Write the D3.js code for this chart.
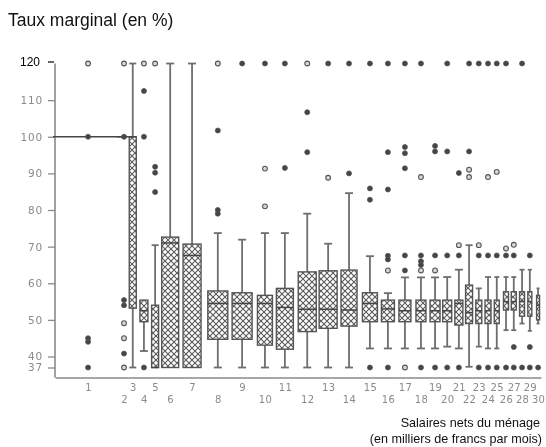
<!DOCTYPE html>
<html>
<head>
<meta charset="utf-8">
<script src="https://cdn.jsdelivr.net/npm/d3@7"></script>
<style>
  body { margin: 0; background: #fff; }
  svg { display: block; }
</style>
</head>
<body>
<svg id="chart" width="546" height="447"></svg>
<script>
// Tranches de salaire (milliers de francs par mois)
const tranches = [1,2,3,4,5,6,7,8,9,10,11,12,13,14,15,16,17,18,19,20,21,22,23,24,25,26,27,28,29,30];
// Abscisse de chaque tranche sur l'axe (unités 0–100)
const abscisses = [6.8,14.2,16.0,18.3,20.6,23.7,28.2,33.5,38.5,43.2,47.3,51.9,56.2,60.5,64.8,68.5,72.0,75.3,78.2,80.7,83.1,85.2,87.2,89.1,90.9,92.8,94.4,96.1,97.7,99.4];
// Effectifs relatifs (largeur des boîtes)
const effectifs = [350,70,35,40,35,85,90,100,100,75,85,90,90,80,75,65,60,50,50,45,40,35,30,30,25,25,25,25,20,15];
// Statistiques des boîtes (taux marginal en %)
const q1 =        [100,100,53.2,49.5,37,37,37,44.7,44.7,43.1,42,46.8,47.7,48.3,49.5,49.5,49.5,49.5,49.5,49.5,48.6,49,49,49,49,52.7,52.7,51,51,50];
const mediane =   [100,100,100,52.5,37,71,67.6,54.5,54.5,54.5,53.4,52.9,52.9,52.7,54.5,53,52.5,52.5,52.5,52.5,54.5,52,52.5,52.5,52.5,55,55,55,55,54];
const q3 =        [100,100,100,55.4,54,72.6,70.7,57.9,57.4,56.7,58.6,63.1,63.4,63.6,57.4,55.4,55.4,55.4,55.4,55.4,55.4,59.5,55.4,55.4,55.4,57.7,57.7,57.7,57.7,56.7];
const basMoustache =  [100,100,37,41.5,37,37,37,37,37,37,37,37,37,37,42.2,42.2,42.2,42.2,42.2,42.7,42.2,37.2,42.7,42.2,42.2,47.2,47.2,49,47,49];
const hautMoustache = [100,100,120,55.4,70.4,120,120,73.7,71.9,73.7,73.7,79,70.8,84.6,67.4,57.3,61.6,61.6,61.6,61.7,63.7,70.4,58.6,61.7,61.7,61.7,61.7,63.7,63.7,58.6];
// Valeurs atypiques isolées
const atypiquesIsoles = [
  [120],[120,49.1,45,37],[],[120],[120],[],[],[120],[],[91.3,81],
  [],[120],[88.8],[],[],[63.5],[37],[89,63.5],[63.5],[],
  [70.4],[91,89],[70.4],[89],[90.4],[69.5],[70.5],[],[],[]
];
// Valeurs atypiques répétées (plusieurs ménages)
const atypiquesRepetes = [
  [100,45,44,37],[100,55.4,54,40.8],[],[112.5,100,37],[91.8,90.2,84.9],[],[],[101.7,80,79],[120],[120],
  [120,91.5],[106.7,95.8],[120],[120,90],[120,85.9,82.8,37],[120,95.8,85.6,67.5,66.5,37],[120,97.2,95.5,91.4,67.6,63.5],[120,67.6,66,65,37],[97.5,96,67.6,37],[120,96,67.6,37],
  [90.1,67.6,37],[120,96],[120,67.6,37],[120,67.6,37],[120,67.6,37],[120,67.6,37],[67.6,42.6,37],[120,37],[67.6,42.6,37],[37]
];
// Graduations de l'axe vertical
const graduationsY = [37,40,50,60,70,80,90,100,110];
const graduationHaute = [120];

const svg = d3.select("#chart");
const W = 546, H = 447;

const x = d3.scaleLinear().domain([0, 100]).range([55, 541]);
const y = d3.scaleLinear().domain([37, 120]).range([367.5, 63.5]);
const largeur = d3.scaleLinear().domain([0, 100]).range([0, 20]);
const baseline = y(37) + 10;

const defs = svg.append("defs");
const trame = defs.append("pattern")
  .attr("id", "trame").attr("patternUnits", "userSpaceOnUse")
  .attr("width", 6).attr("height", 6);
trame.append("rect").attr("width", 6).attr("height", 6).attr("fill", "#fff");
trame.append("path").attr("d", "M0,0L6,6M6,0L0,6")
  .attr("stroke", "#5a5a5a").attr("stroke-width", 1.1);
defs.append("filter").attr("id", "flou")
  .attr("x", "-5%").attr("y", "-5%").attr("width", "110%").attr("height", "110%")
  .append("feGaussianBlur").attr("stdDeviation", 0.6);

svg.append("rect").attr("width", W).attr("height", H).attr("fill", "#fff");

const plot = svg.append("g").attr("filter", "url(#flou)");

// Axe vertical
const axeY = plot.append("g")
  .attr("transform", `translate(${x(0)},0)`)
  .call(d3.axisLeft(y).tickValues(graduationsY).tickSize(7).tickPadding(5).tickSizeOuter(0));
axeY.select(".domain").remove();
axeY.selectAll(".tick line").attr("stroke", "#8a8a8a").attr("stroke-width", 1.3);
axeY.selectAll(".tick text")
  .attr("fill", "#8a8a8a").attr("font-family", "DejaVu Sans").attr("font-size", 10.5)
  .attr("letter-spacing", 0.8);

plot.append("line")
  .attr("x1", x(0)).attr("x2", x(0))
  .attr("y1", y(120)).attr("y2", baseline)
  .attr("stroke", "#8a8a8a").attr("stroke-width", 1.6);

// Axe horizontal
const axeX = plot.append("g")
  .attr("transform", `translate(0,${baseline})`)
  .call(d3.axisBottom(x).tickValues(abscisses).tickSize(0).tickSizeOuter(0)
    .tickFormat((d, i) => tranches[i]));
axeX.select(".domain").attr("stroke", "#8a8a8a").attr("stroke-width", 1.6);
axeX.selectAll(".tick text")
  .attr("y", (d, i) => (tranches[i] % 2 === 1 ? 6 : 18))
  .attr("fill", "#8a8a8a").attr("font-family", "DejaVu Sans").attr("font-size", 10)
  .attr("letter-spacing", 0.3);

// Boîtes à moustaches
const donnees = tranches.map((t, i) => ({
  t, pos: abscisses[i], w: largeur(effectifs[i]),
  q1: q1[i], med: mediane[i], q3: q3[i],
  bas: basMoustache[i], haut: hautMoustache[i],
  isoles: atypiquesIsoles[i], repetes: atypiquesRepetes[i]
}));

const boites = plot.selectAll("g.boite").data(donnees).join("g").attr("class", "boite");

boites.filter(d => d.bas < d.q1 || d.haut > d.q3).append("line")
  .attr("x1", d => x(d.pos)).attr("x2", d => x(d.pos))
  .attr("y1", d => y(d.bas)).attr("y2", d => y(d.haut))
  .attr("stroke", "#6e6e6e").attr("stroke-width", 1.8);

boites.filter(d => d.bas < d.q1).append("line")
  .attr("x1", d => x(d.pos) - Math.min(8, d.w) / 2)
  .attr("x2", d => x(d.pos) + Math.min(8, d.w) / 2)
  .attr("y1", d => y(d.bas)).attr("y2", d => y(d.bas))
  .attr("stroke", "#6e6e6e").attr("stroke-width", 1.8);

boites.filter(d => d.haut > d.q3).append("line")
  .attr("x1", d => x(d.pos) - Math.min(8, d.w) / 2)
  .attr("x2", d => x(d.pos) + Math.min(8, d.w) / 2)
  .attr("y1", d => y(d.haut)).attr("y2", d => y(d.haut))
  .attr("stroke", "#6e6e6e").attr("stroke-width", 1.8);

boites.append("rect")
  .attr("x", d => x(d.pos) - d.w / 2)
  .attr("width", d => d.w)
  .attr("y", d => y(d.q3))
  .attr("height", d => y(d.q1) - y(d.q3))
  .attr("fill", "url(#trame)")
  .attr("stroke", "#555").attr("stroke-width", 1.4);

boites.append("line")
  .attr("x1", d => x(d.pos) - d.w / 2).attr("x2", d => x(d.pos) + d.w / 2)
  .attr("y1", d => y(d.med)).attr("y2", d => y(d.med))
  .attr("stroke", "#444").attr("stroke-width", 1.5);

// Valeurs atypiques
boites.selectAll("circle.isole")
  .data(d => d.isoles.map(v => ({ pos: d.pos, v })))
  .join("circle").attr("class", "isole")
  .attr("cx", d => x(d.pos)).attr("cy", d => y(d.v)).attr("r", 2.4)
  .attr("fill", "#d8d8d8").attr("stroke", "#555").attr("stroke-width", 1.1);

boites.selectAll("circle.repete")
  .data(d => d.repetes.map(v => ({ pos: d.pos, v })))
  .join("circle").attr("class", "repete")
  .attr("cx", d => x(d.pos)).attr("cy", d => y(d.v)).attr("r", 2.5)
  .attr("fill", "#444").attr("stroke", "#555").attr("stroke-width", 0.8);

// Graduation 120 (nette)
const axeHaut = svg.append("g")
  .attr("transform", `translate(${x(0) - 1},0)`)
  .call(d3.axisLeft(y).tickValues(graduationHaute).tickSize(6).tickPadding(8).tickSizeOuter(0));
axeHaut.select(".domain").remove();
axeHaut.selectAll(".tick").attr("transform", `translate(0,${y(120) - 1.5})`);
axeHaut.selectAll(".tick line").attr("stroke", "#000").attr("stroke-width", 1.2);
axeHaut.selectAll(".tick text")
  .attr("fill", "#000").attr("font-family", "Liberation Sans, Arial, sans-serif").attr("font-size", 12);

// Titres
svg.append("text")
  .attr("x", 8).attr("y", 26)
  .attr("font-family", "Liberation Sans, Arial, sans-serif").attr("font-size", 17.5)
  .attr("fill", "#111")
  .text("Taux marginal (en %)");

svg.append("text")
  .attr("x", 540).attr("y", 427).attr("text-anchor", "end")
  .attr("font-family", "Liberation Sans, Arial, sans-serif").attr("font-size", 12.6)
  .attr("fill", "#111")
  .text("Salaires nets du ménage");

svg.append("text")
  .attr("x", 542).attr("y", 443).attr("text-anchor", "end")
  .attr("font-family", "Liberation Sans, Arial, sans-serif").attr("font-size", 12.6)
  .attr("fill", "#111")
  .text("(en milliers de francs par mois)");
</script>
</body>
</html>
